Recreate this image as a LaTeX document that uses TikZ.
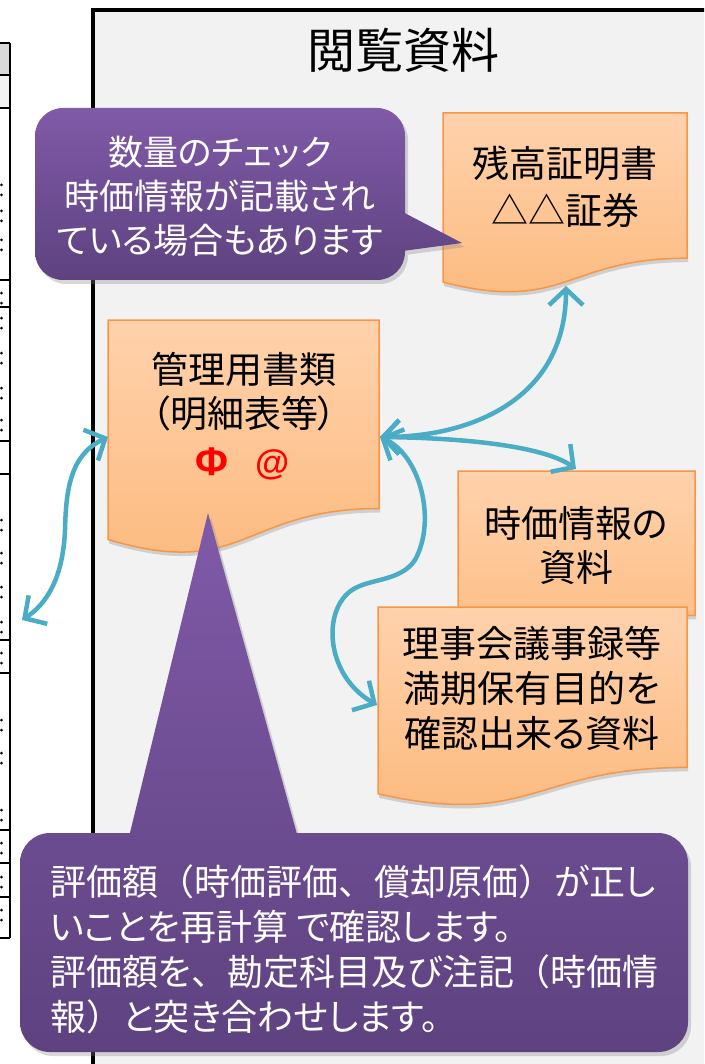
\documentclass[tikz,border=0pt]{standalone}
\usepackage{fontspec}
\setmainfont{Noto Sans CJK JP}[RawFeature=+palt]
\newfontfamily\jpfull{Noto Sans CJK JP}
\newfontfamily\latinbold{Liberation Sans}
\usetikzlibrary{arrows.meta,shadows}
\definecolor{panelgray}{RGB}{242,242,242}
\definecolor{headgray}{RGB}{217,217,217}
\definecolor{docborder}{RGB}{247,150,70}
\definecolor{doctop}{RGB}{255,210,172}
\definecolor{docbottom}{RGB}{252,185,125}
\definecolor{calltop}{RGB}{128,90,168}
\definecolor{callbottom}{RGB}{94,66,128}
\definecolor{arrowteal}{RGB}{75,172,198}
\tikzset{
  docshape/.style={draw=docborder, line width=1.5pt, top color=doctop, bottom color=docbottom,
    drop shadow={shadow xshift=1pt, shadow yshift=-4pt, opacity=0.3}},
  calloutshape/.style={top color=calltop, bottom color=callbottom,
    drop shadow={shadow xshift=3pt, shadow yshift=-4pt, opacity=0.3}},
  link/.style={draw=arrowteal, line width=4.5pt,
    {Straight Barb[length=16pt,width=34pt]}-{Straight Barb[length=16pt,width=34pt]}},
  doctext/.style={align=center, inner sep=0pt, text=black, font=\fontsize{37}{46}\selectfont},
  calltext/.style={text=white, inner sep=0pt, font=\fontsize{35}{44}\selectfont},
  tableline/.style={line width=1.5pt, draw=black},
  redmark/.style={inner sep=0pt, text=red},
}
\begin{document}
\begin{tikzpicture}[x=1pt, y=-1pt]
\useasboundingbox (0,0) rectangle (704,1064);
\clip (0,0) rectangle (704,1064);
\fill[white] (0,0) rectangle (704,1064);

% left table fragment
\fill[headgray] (-2,43) rectangle (10,75);
\fill[panelgray] (-2,75) rectangle (10,108);
\foreach \yy in {43,75,108,280,307,441,474,640,673,830,863,897,938}
  \draw[tableline] (-2,\yy) -- (10,\yy);
\draw[line width=2pt] (10,43) -- (10,938);
\foreach \yy in {190,216,245,298,323,358,393,425,525,558,592,627,658,725,758,815,848,882,915}{
  \fill (1.5,\yy-5) circle (1.5);
  \fill (1.5,\yy+5) circle (1.5);
}

% panel
\draw[line width=4pt, fill=panelgray] (93,10) rectangle (760,1100);
\node[inner sep=0pt, font=\fontsize{48}{58}\selectfont] (title) at (403,50) {閲覧資料};

% documents
\path[docshape] (443,113) -- (687,113) -- (687,258.2) .. controls (565,258.2) and (565,313.5) .. (443,282.1) -- cycle;
\path[docshape] (108,320) -- (379,320) -- (379,508.5) .. controls (243.5,508.5) and (243.5,580.3) .. (108,539.5) -- cycle;
\path[docshape] (458,471) -- (695,471) -- (695,615.4) .. controls (576.5,615.4) and (576.5,670.4) .. (458,639.1) -- cycle;
\path[docshape] (378,607) -- (687,607) -- (687,767.4) .. controls (532.5,767.4) and (532.5,828.5) .. (378,793.8) -- cycle;

\node[doctext, font=\fontsize{37}{47}\selectfont] (zantext) at (565,186.5) {残高証明書\\△△証券};
\node[doctext, font=\fontsize{37}{44}\selectfont] (mgmttext) at (244,391.5) {管理用書類\\（明細表等）};
\node[redmark, font=\latinbold\bfseries\fontsize{40}{46}\selectfont] (phi) at (212,462) {Φ};
\node[redmark, font=\latinbold\bfseries\fontsize{35}{42}\selectfont] (atmark) at (273,465) {@};
\node[doctext, font=\fontsize{37}{44}\selectfont] (jikatext) at (576,545) {時価情報の\\資料};
\node[doctext, font=\fontsize{37}{45}\selectfont] (rijitext) at (532,688) {理事会議事録等\\満期保有目的を\\確認出来る資料};

% connector end points
\coordinate (mgmtL) at (108,437);
\coordinate (mgmtR) at (380,437);
\coordinate (outL) at (22,620);
\coordinate (zanB) at (566,286);
\coordinate (jikaT) at (576,469);
\coordinate (rijiL) at (377,705);

\draw[link] (mgmtL) .. controls (70,455) and (66,490) .. (65,530) .. controls (63,580) and (45,605) .. (outL);
\draw[link] (mgmtR) .. controls (470,437) and (566,400) .. (zanB);
\draw[link] (mgmtR) .. controls (470,438) and (545,447) .. (jikaT);
\draw[link] (mgmtR) .. controls (420,455) and (437,520) .. (415,560) .. controls (400,582) and (370,578) .. (352,590) .. controls (322,610) and (325,675) .. (rijiL);

% top callout
\path[calloutshape, rounded corners=28pt] (35,108) -- (405,108) -- (405,280) -- (35,280) -- cycle
  [sharp corners] (395,208) -- (462,243) -- (395,252) -- cycle;
\node[calltext, align=center] (toptext) at (220,196.7) {数量のチェック\\時価情報が記載され\\ている場合もあります};

% bottom callout
\path[calloutshape, rounded corners=30pt] (20,833) -- (688,833) -- (688,1052) -- (20,1052) -- cycle
  [sharp corners] (127,845) -- (208,513) -- (300,845) -- cycle;
\node[calltext, align=left, anchor=west, font=\fontsize{36}{45}\selectfont] (bottomtext) at (50,949.5)
  {評価額{\jpfull （}時価評価{\jpfull 、}償却原価{\jpfull ）}が正し\\いことを再計算 で確認します。\\評価額を{\jpfull 、}勘定科目及び注記{\jpfull （}時価情\\報{\jpfull ）}と突き合わせします。};
\end{tikzpicture}
\end{document}
